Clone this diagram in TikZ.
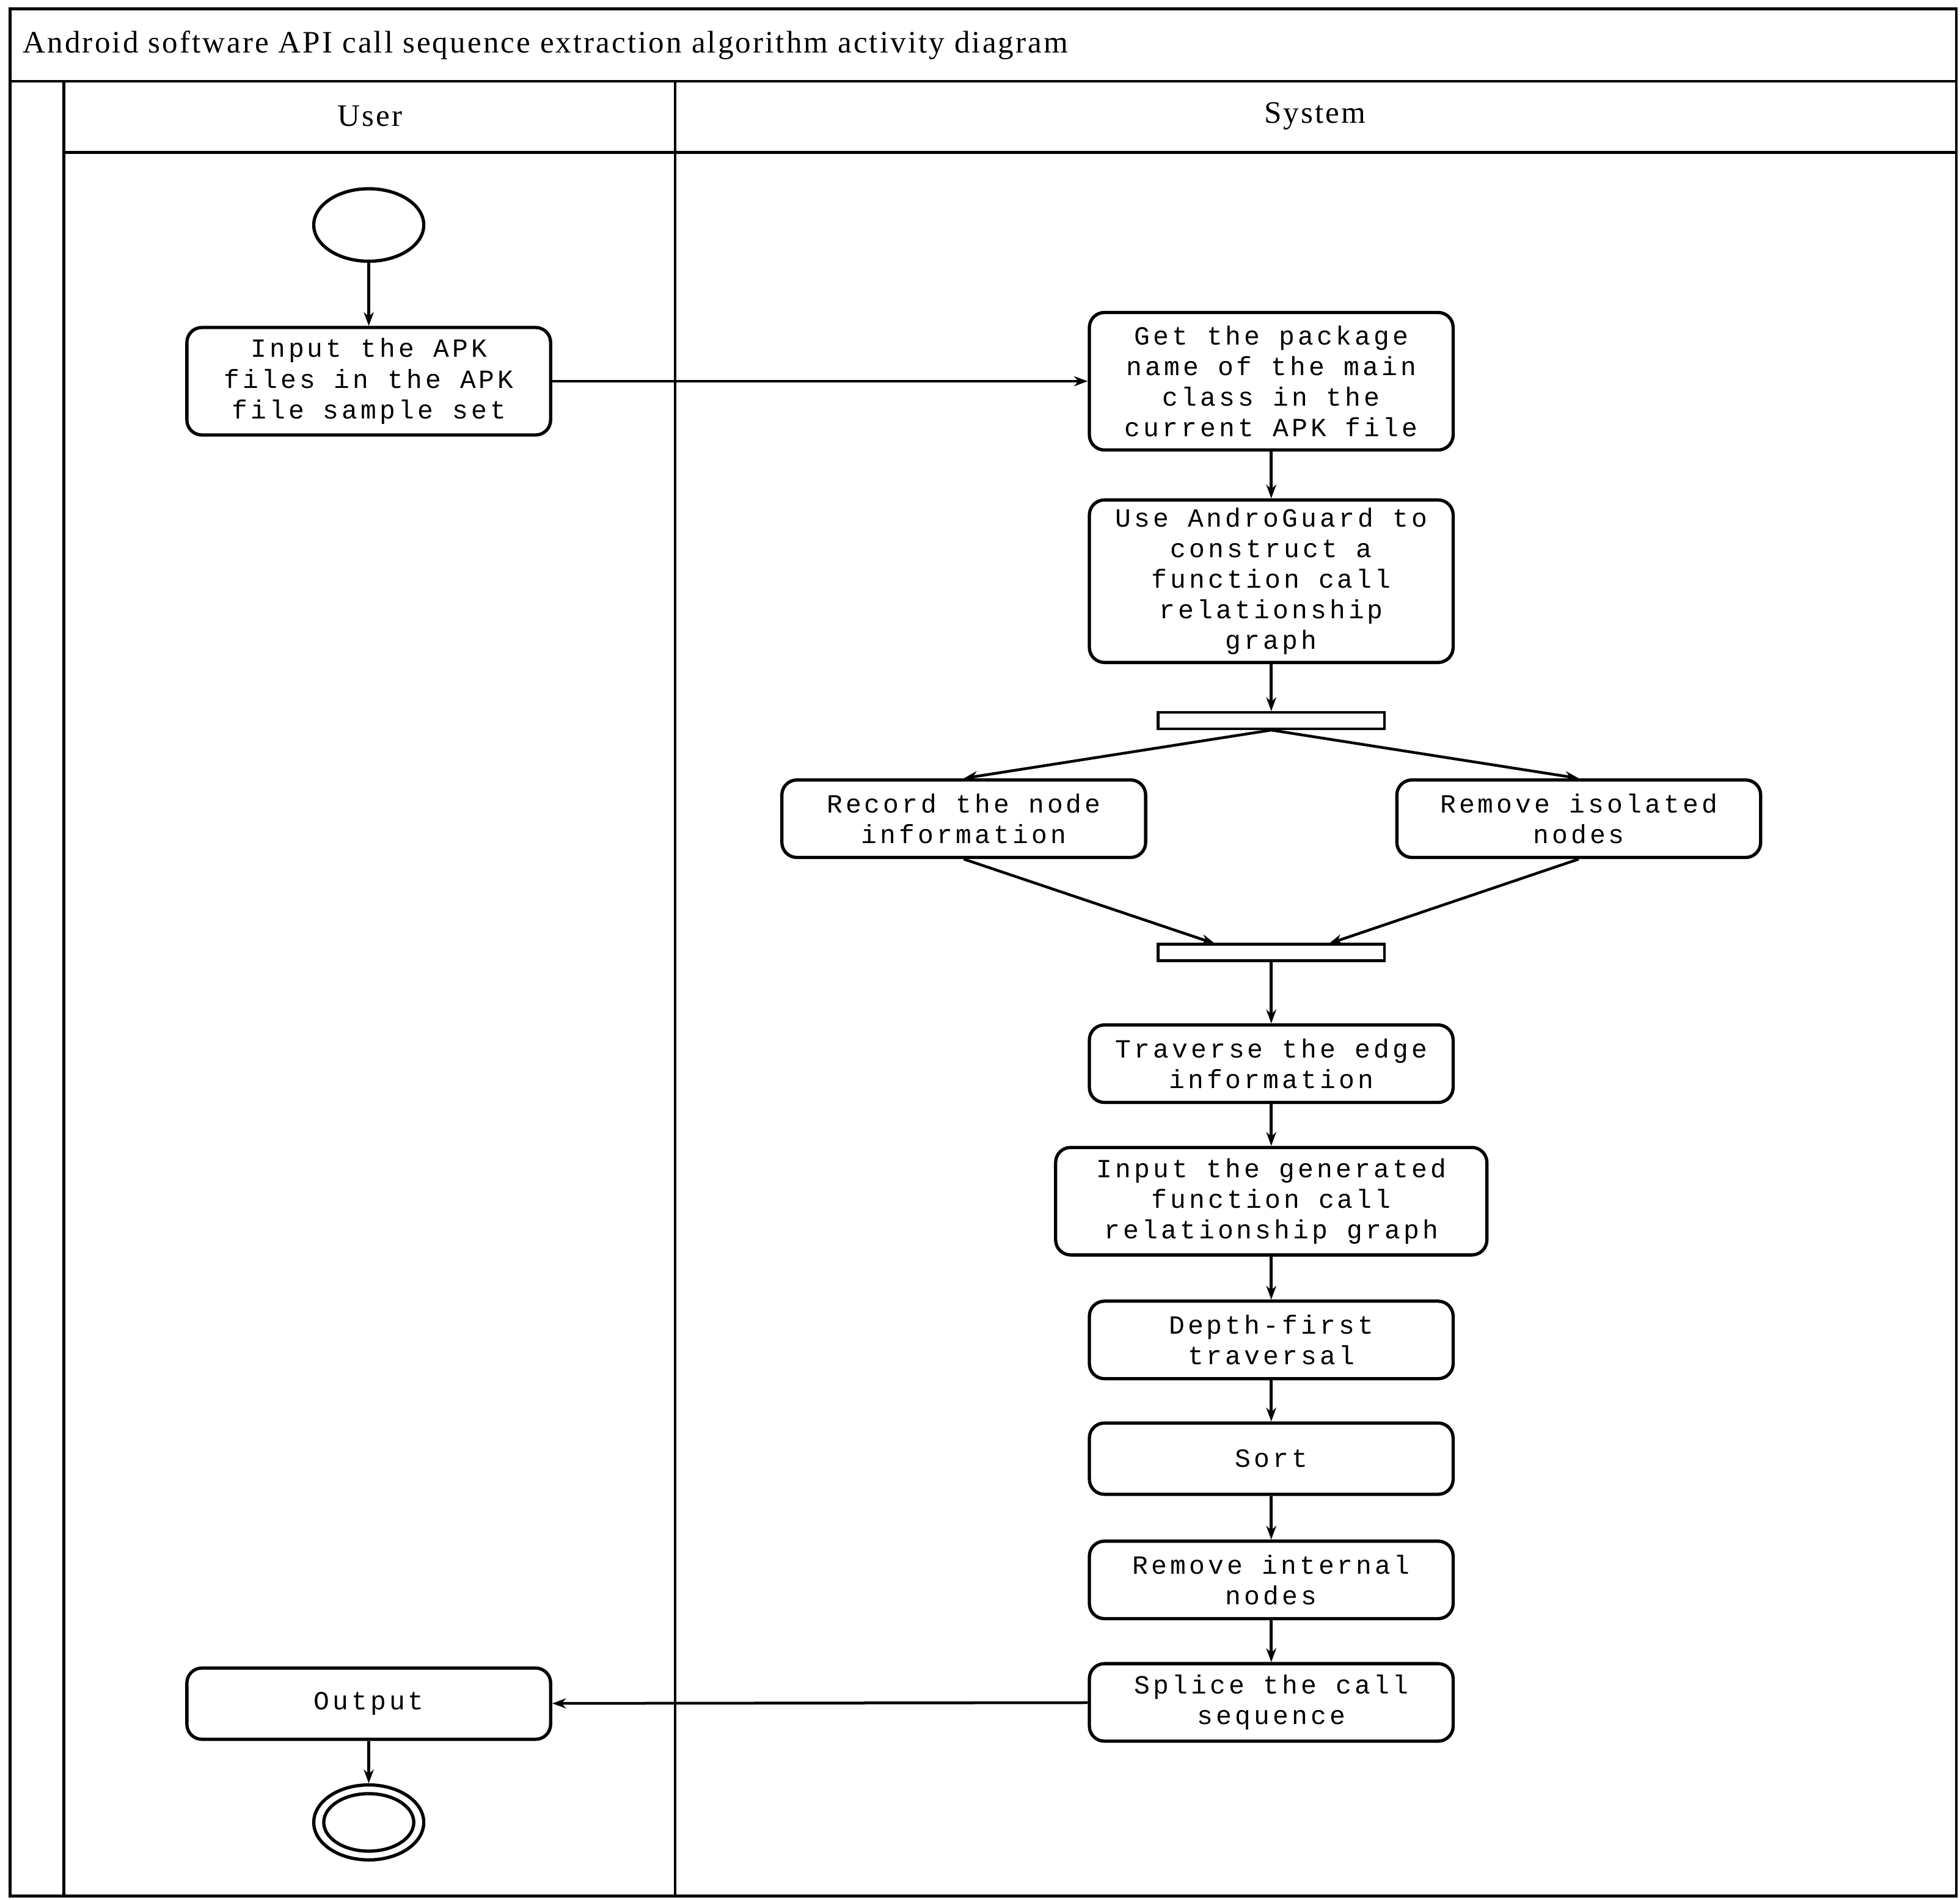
\documentclass[tikz,border=0pt]{standalone}
\usepackage{fontspec}
\setmainfont{Liberation Serif}
\newfontfamily\boxfont[LetterSpace=12]{Liberation Mono}
\newfontfamily\titlefont[LetterSpace=6]{Liberation Serif}
\usetikzlibrary{arrows.meta,shapes.geometric}
\begin{document}
\begin{tikzpicture}[x=1pt,y=-1pt,line width=2.2pt,
  act/.style={draw,line width=2.6pt,rounded corners=12pt,align=center,inner sep=0pt,minimum width=291pt,font=\boxfont\fontsize{21}{24.5}\selectfont},
  bar/.style={draw,minimum width=181pt,minimum height=13pt,inner sep=0pt},
  arr/.style={-{Stealth[length=11pt,width=8pt]}},
  hdr/.style={font=\titlefont\fontsize{25}{28}\selectfont}]
\useasboundingbox (0,0) rectangle (1568,1520);
% frame
\draw (8,7) rectangle (1565,1517);
\draw (8,65) -- (1565,65);
\draw (51,65) -- (51,1517);
\draw (540,65) -- (540,1517);
\draw (51,122) -- (1565,122);
\node[hdr,anchor=west] (title) at (14,36) {Android software API call sequence extraction algorithm activity diagram};
\node[hdr] (user) at (296,93) {User};
\node[hdr] (sys) at (1052,93) {System};
% nodes
\node[draw,line width=2.6pt,ellipse,minimum width=88pt,minimum height=58pt,inner sep=0pt] (start) at (295,180) {};
\node[act,minimum height=86pt] (in) at (295,305) {Input the APK\\files in the APK\\file sample set};
\node[act,minimum height=110pt] (get) at (1017,305) {Get the package\\name of the main\\class in the\\current APK file};
\node[act,minimum height=130pt] (use) at (1017,465) {Use AndroGuard to\\construct a\\function call\\relationship\\graph};
\node[bar] (fork) at (1017,576.5) {};
\node[act,minimum height=62pt] (rec) at (771,655) {Record the node\\information};
\node[act,minimum height=62pt] (rem) at (1263,655) {Remove isolated\\nodes};
\node[bar] (join) at (1017,762) {};
\node[act,minimum height=62pt] (trav) at (1017,851) {Traverse the edge\\information};
\node[act,minimum height=86pt,minimum width=345pt] (gen) at (1017,961) {Input the generated\\function call\\relationship graph};
\node[act,minimum height=62pt] (dfs) at (1017,1072) {Depth-first\\traversal};
\node[act,minimum height=57pt] (sort) at (1017,1167) {Sort};
\node[act,minimum height=62pt] (remi) at (1017,1264) {Remove internal\\nodes};
\node[act,minimum height=62pt] (spl) at (1017,1362) {Splice the call\\sequence};
\node[act,minimum height=57pt] (out) at (295,1363) {Output};
\node[draw,line width=2.6pt,ellipse,minimum width=88pt,minimum height=60pt,inner sep=0pt] (end) at (295,1458) {};
\node[draw,line width=2.6pt,ellipse,minimum width=72pt,minimum height=46pt,inner sep=0pt] (endi) at (295,1458) {};
% connectors
\draw[arr] (start) -- (in);
\draw[arr] (in) -- (get);
\draw[arr] (get) -- (use);
\draw[arr] (use) -- (fork);
\draw[arr] (fork.south) -- (rec.north);
\draw[arr] (fork.south) -- (rem.north);
\coordinate (j1) at (972,755);
\coordinate (j2) at (1063,755);
\draw[arr] (rec.south) -- (j1);
\draw[arr] (rem.south) -- (j2);
\draw[arr] (join) -- (trav);
\draw[arr] (trav) -- (gen);
\draw[arr] (gen) -- (dfs);
\draw[arr] (dfs) -- (sort);
\draw[arr] (sort) -- (remi);
\draw[arr] (remi) -- (spl);
\draw[arr] (spl) -- (out);
\draw[arr] (out) -- (end);
\end{tikzpicture}
\end{document}
